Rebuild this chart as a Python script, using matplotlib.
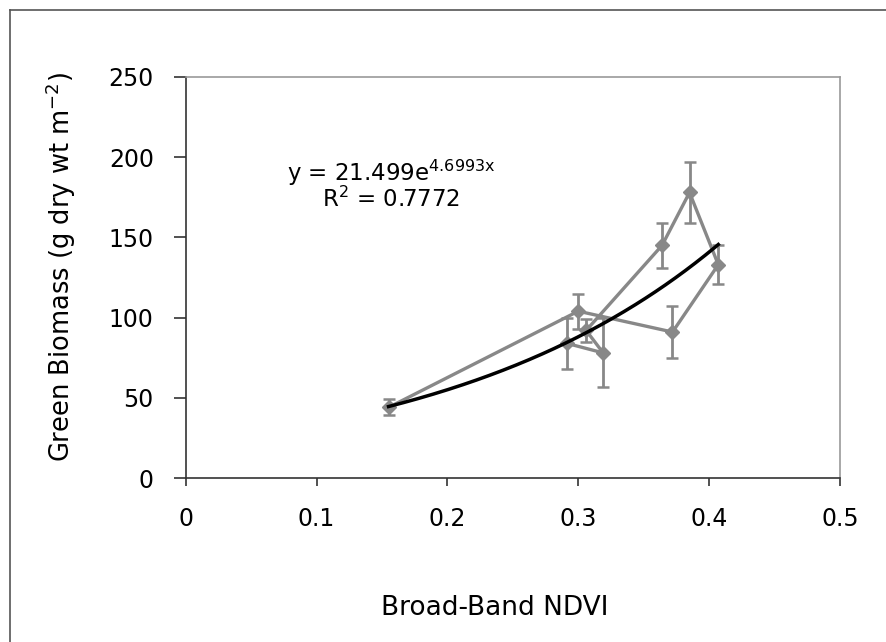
import numpy as np
import matplotlib
matplotlib.use("Agg")
import matplotlib.pyplot as plt
from matplotlib.lines import Line2D

# Data (in plotting order)
ndvi = [0.155, 0.300, 0.372, 0.407, 0.385, 0.364, 0.306, 0.319, 0.291]
biomass = [44, 104, 91, 133, 178, 145, 92, 78, 84]
biomass_err = [5, 11, 16, 12, 19, 14, 7, 21.5, 16]

# Exponential trend line coefficients (from the chart)
coef_a = 21.499
coef_b = 4.6993
r_squared = 0.7772

x_ticks = [0, 0.1, 0.2, 0.3, 0.4, 0.5]
x_tick_labels = ["0", "0.1", "0.2", "0.3", "0.4", "0.5"]
y_ticks = [0, 50, 100, 150, 200, 250]

plt.rcParams['font.family'] = ['DejaVu Sans']

W, H = 887, 642
fig = plt.figure(figsize=(W / 100, H / 100), dpi=100)
ax = fig.add_axes([185.7 / W, 1 - 478 / H, (840 - 185.7) / W, (478 - 77) / H])

gray = '#888888'
ax.errorbar(ndvi, biomass, yerr=biomass_err, color=gray, ecolor=gray,
            elinewidth=2.0, capsize=4.5, capthick=1.8, lw=2.4,
            marker='D', markersize=7.5, markerfacecolor=gray,
            markeredgecolor=gray, zorder=2)

xt = np.linspace(min(ndvi), max(ndvi), 200)
ax.plot(xt, coef_a * np.exp(coef_b * xt), color='black', lw=2.5, zorder=3)

ax.set_xlim(0, 0.5)
ax.set_ylim(0, 250)
ax.set_xticks(x_ticks)
ax.set_xticklabels(x_tick_labels)
ax.set_yticks(y_ticks)

fs = 17
ax.tick_params(axis='both', direction='out', width=1.2,
               colors='#333333', labelsize=fs, labelcolor='black')
ax.tick_params(axis='y', length=9, pad=14)
ax.tick_params(axis='x', length=6, pad=15)
for s in ['left', 'bottom']:
    ax.spines[s].set_color('#333333')
    ax.spines[s].set_linewidth(1.2)
for s in ['top', 'right']:
    ax.spines[s].set_color('#999999')
    ax.spines[s].set_linewidth(1.2)

ax.set_xlabel('Broad-Band NDVI', fontsize=19, labelpad=46)
ax.set_ylabel('Green Biomass (g dry wt m$^{\\mathregular{-2}}$)', fontsize=18.5, labelpad=22)
ax.xaxis.label.set_x(0.473)
ax.yaxis.label.set_y(0.526)

eq_fs = 16.5
ax.text(0.157, 190, 'y = %se$^{\\mathregular{%sx}}$' % (coef_a, coef_b),
        fontsize=eq_fs, ha='center', va='center')
ax.text(0.157, 174, 'R$^{\\mathregular{2}}$ = %s' % r_squared,
        fontsize=eq_fs, ha='center', va='center')

# outer chart frame (cropped)
fig.add_artist(Line2D([10 / W, 10 / W], [0, 1 - 10 / H], color='#555555', lw=1.2))
fig.add_artist(Line2D([10 / W, 1], [1 - 10 / H, 1 - 10 / H], color='#555555', lw=1.2))

fig.savefig('out.png', dpi=100)
